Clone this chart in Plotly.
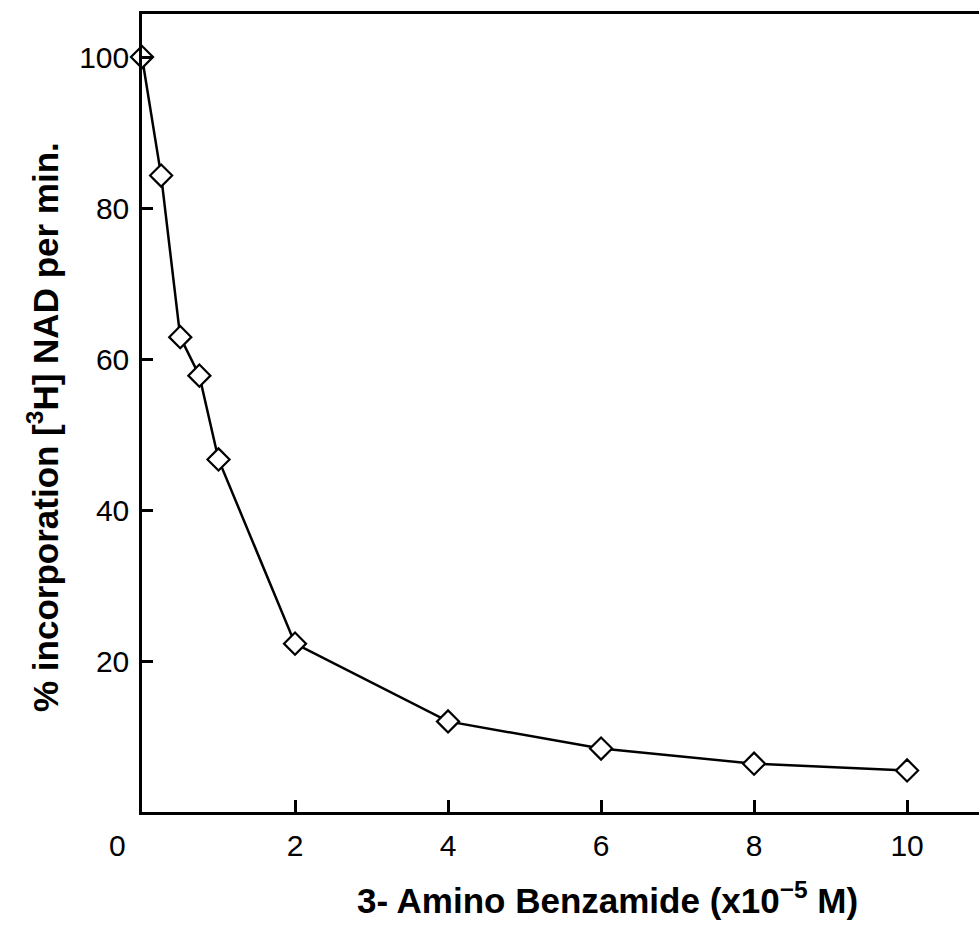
import plotly.graph_objects as go

conc = [0.0, 0.25, 0.5, 0.75, 1.0, 2.0, 4.0, 6.0, 8.0, 10.0]
incorporation = [100.0, 84.3, 62.9, 57.8, 46.7, 22.3, 12.0, 8.4, 6.4, 5.5]
x_ticks = [2, 4, 6, 8, 10]
y_ticks = [20, 40, 60, 80, 100]

FONT = "Liberation Sans, Arial, sans-serif"

fig = go.Figure()
fig.add_trace(go.Scatter(
    x=conc, y=incorporation, mode="lines+markers",
    line=dict(color="black", width=2.5),
    marker=dict(symbol="diamond", size=17, color="white",
                line=dict(color="black", width=2.2)),
    cliponaxis=False, showlegend=False,
))

fig.update_layout(
    width=979, height=931,
    margin=dict(l=142, r=0, t=14, b=119),
    plot_bgcolor="white", paper_bgcolor="white",
    font=dict(family=FONT, color="black", size=30),
    xaxis=dict(range=[0, 10.94], tickvals=x_ticks, ticktext=[str(v) for v in x_ticks],
               ticks="inside", ticklen=12, tickwidth=2.5, tickcolor="black",
               tickfont=dict(size=30),
               showline=True, linecolor="black", linewidth=2.5, mirror=True,
               showgrid=False, zeroline=False, ticklabelstandoff=5),
    yaxis=dict(range=[0, 105.7], tickvals=y_ticks, ticktext=[str(v) for v in y_ticks],
               ticks="inside", ticklen=11, tickwidth=2.5, tickcolor="black",
               tickfont=dict(size=30),
               showline=True, linecolor="black", linewidth=2.5, mirror=False,
               showgrid=False, zeroline=False, ticklabelstandoff=4),
    annotations=[
        dict(text="0", xref="paper", yref="paper", x=(117-142)/837, y=0, xanchor="center",
             yanchor="top", yshift=-15, showarrow=False, font=dict(size=30)),
        dict(text="<b>3- Amino Benzamide (x10<sup>\u22125</sup> M)</b>", xref="paper", yref="paper",
             x=(607-142)/837, y=0, yshift=-62, xanchor="center", yanchor="top",
             showarrow=False, font=dict(size=35)),
        dict(text="<b>% incorporation [<sup>3</sup>H] NAD per min.</b>", xref="paper", yref="paper",
             x=0, xshift=-99, y=(812-427)/798, xanchor="center", yanchor="middle",
             textangle=-90, showarrow=False, font=dict(size=35)),
    ],
)

fig.write_html("out.html")
